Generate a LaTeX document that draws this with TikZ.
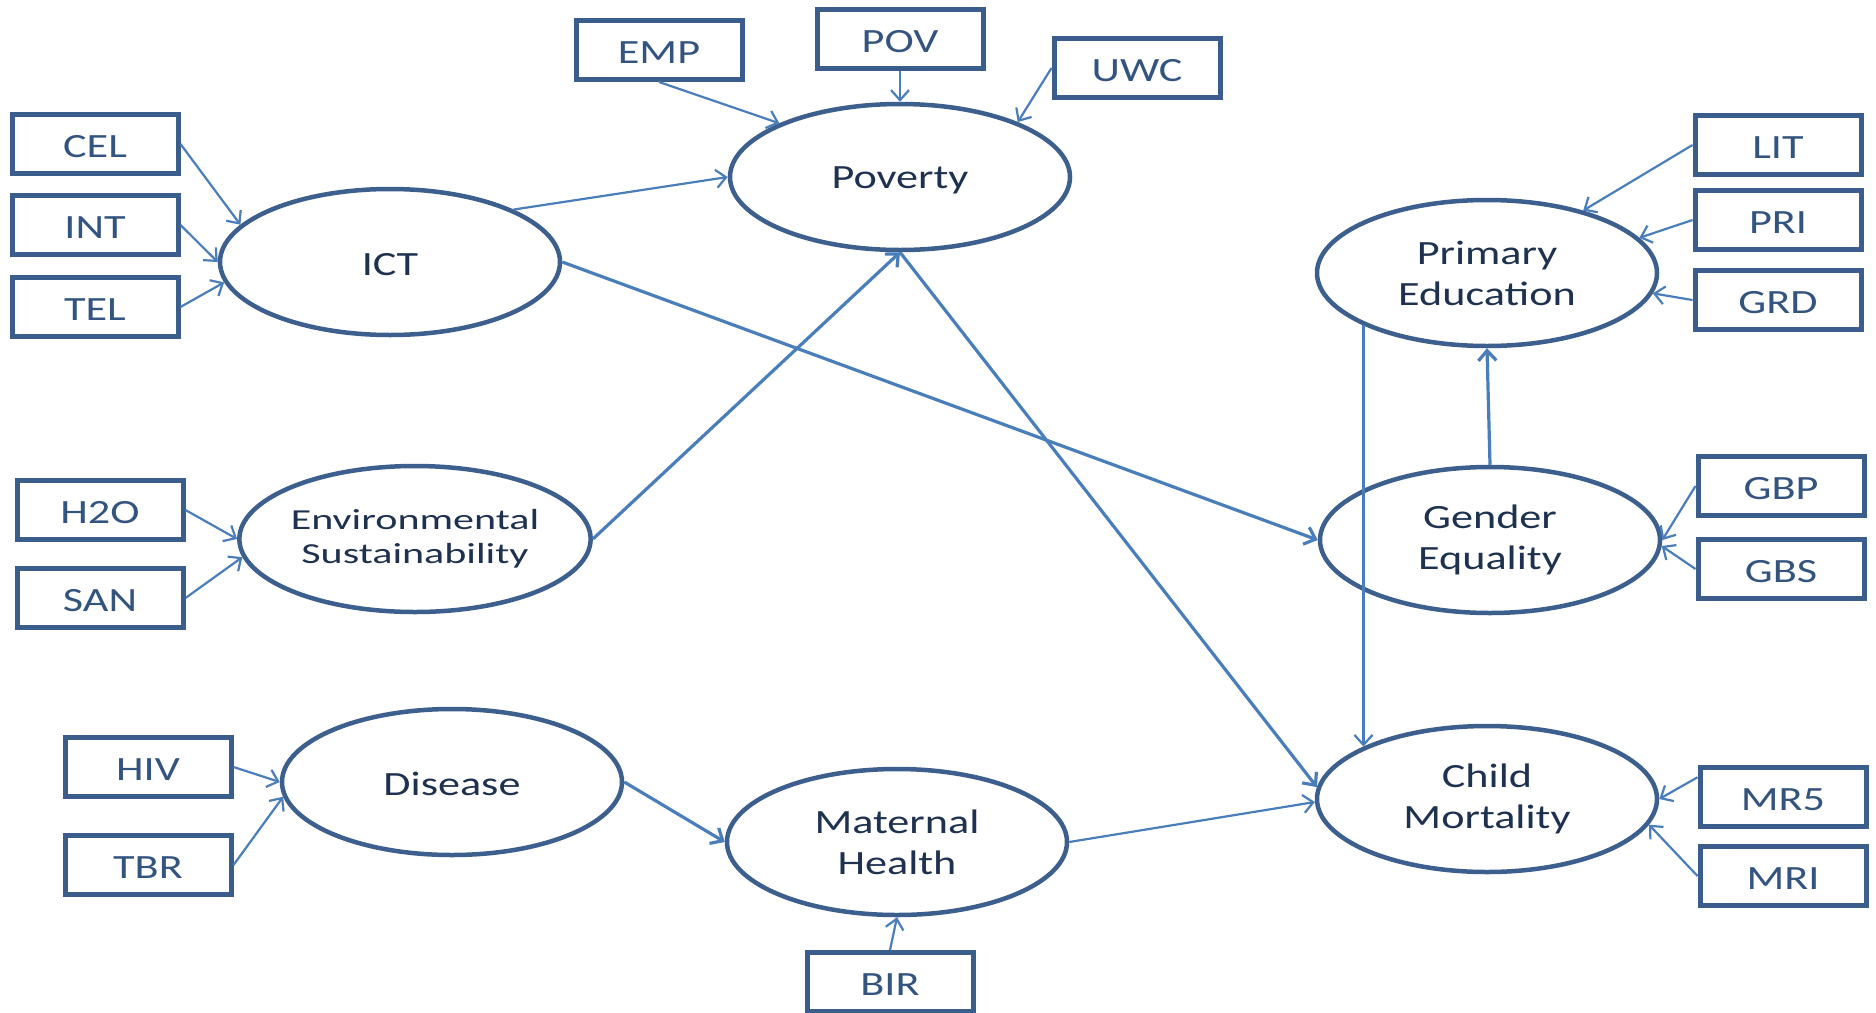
\documentclass[tikz,border=0pt]{standalone}
\usepackage{fontspec}
\setmainfont[FakeStretch=1.3]{Carlito}
\newfontfamily\widefont[FakeStretch=1.45]{Carlito}
\usetikzlibrary{shapes.geometric,arrows.meta}

\definecolor{ellcol}{RGB}{60,95,142}
\definecolor{boxcol}{RGB}{59,93,140}
\definecolor{boxtxt}{RGB}{52,84,128}
\definecolor{txtdark}{RGB}{30,50,80}
\definecolor{linecol}{RGB}{74,126,187}

\begin{document}
\begin{tikzpicture}[x=1pt,y=-1pt,
  latent/.style={ellipse, draw=ellcol, line width=4.5pt, fill=white,
    minimum width=340pt, minimum height=146pt, inner sep=0pt,
    text=txtdark, align=center, font=\fontsize{34}{41}\selectfont},
  oneline/.style={text height=28pt, text depth=2pt},
  indicator/.style={rectangle, draw=boxcol, line width=5pt, fill=white,
    minimum width=166pt, minimum height=59pt, inner sep=0pt,
    text height=30pt, text depth=3pt,
    text=boxtxt, font=\fontsize{34}{41}\selectfont},
  link/.style={draw=linecol, line width=2.2pt,
    -{Straight Barb[length=10pt,width=18pt]}},
  strong/.style={link, line width=3.2pt}]

\fill[white] (0,0) rectangle (1876,1012);
\useasboundingbox (0,0) rectangle (1876,1012);

% latent constructs
\node[latent, text height=28pt, text depth=5pt] (pov) at (900,177) {Poverty};
\node[latent, oneline] (ict) at (390,262) {ICT};
\node[latent] (primed) at (1487,273) {Primary\\Education};
\node[latent, font=\widefont\fontsize{29}{34}\selectfont] (env) at (415,539) {Environmental\\Sustainability};
\node[latent] (gender) at (1490,540) {Gender\\Equality};
\node[latent, oneline] (dis) at (452,782) {Disease};
\node[latent] (mat) at (897,842) {Maternal\\Health};
\node[latent] (child) at (1487,799) {Child\\Mortality};

% indicators
\node[indicator] (EMP) at (659,50) {EMP};
\node[indicator] (POV) at (900,39) {POV};
\node[indicator] (UWC) at (1137,68) {UWC};
\node[indicator] (CEL) at (95,144) {CEL};
\node[indicator] (INT) at (95,225) {INT};
\node[indicator] (TEL) at (95,307) {TEL};
\node[indicator] (LIT) at (1778,145) {LIT};
\node[indicator] (PRI) at (1778,220) {PRI};
\node[indicator] (GRD) at (1778,300) {GRD};
\node[indicator] (H2O) at (100,510) {H2O};
\node[indicator] (SAN) at (100,598) {SAN};
\node[indicator] (GBP) at (1781,486) {GBP};
\node[indicator] (GBS) at (1781,569) {GBS};
\node[indicator] (HIV) at (148,767) {HIV};
\node[indicator] (TBR) at (148,865) {TBR};
\node[indicator] (BIR) at (890,982) {BIR};
\node[indicator] (MR5) at (1783,797) {MR5};
\node[indicator] (MRI) at (1783,876) {MRI};

% measurement arrows
\draw[link] (EMP.south) -- (pov.156);
\draw[link] (POV.south) -- (pov.north);
\draw[link] (UWC.west) -- (pov.25);
\draw[link] (CEL.east) -- (ict.166);
\draw[link] (INT.east) -- (ict.west);
\draw[link] (TEL.east) -- (ict.187);
\draw[link] (LIT.west) -- (primed.33);
\draw[link] (PRI.west) -- (primed.13);
\draw[link] (GRD.west) -- (primed.353);
\draw[link] (H2O.east) -- (env.west);
\draw[link] (SAN.east) -- (env.186);
\draw[link] (GBP.west) -- (gender.east);
\draw[link] (GBS.west) -- (gender.358);
\draw[link] (HIV.east) -- (dis.west);
\draw[link] (TBR.east) -- (dis.185);
\draw[link] (BIR.north) -- (mat.south);
\draw[link] (MR5.167) -- (child.east);
\draw[link] (MRI.west) -- (child.351);

% structural paths
\draw[link] (ict.23) -- (pov.west);
\draw[strong] (ict.east) -- (gender.west);
\draw[strong] (env.east) -- (pov.south);
\draw[strong] (pov.south) -- (child.176);
\draw[strong] (gender.north) -- (primed.south);
\draw[link] (primed.203) -- (child.157);
\draw[strong] (dis.east) -- (mat.west);
\draw[link] (mat.east) -- (child.181);
\end{tikzpicture}
\end{document}
